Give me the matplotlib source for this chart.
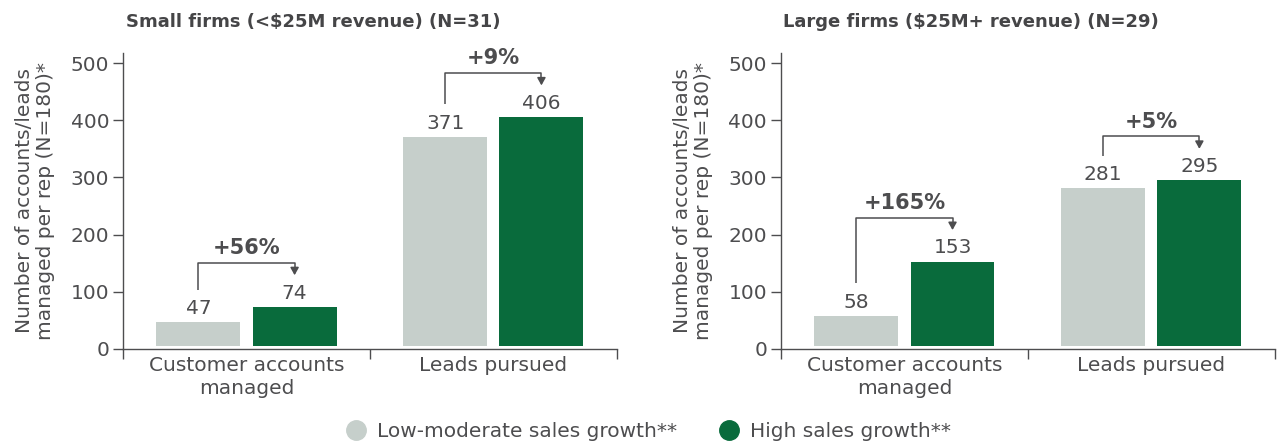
import numpy as np
import matplotlib
matplotlib.use("Agg")
from matplotlib import pyplot as plt
from matplotlib.lines import Line2D

plt.rcParams['font.family'] = ['DejaVu Sans']

# data
categories = ["Customer accounts\nmanaged", "Leads pursued"]
titles = ["Small firms (<$25M revenue) (N=31)", "Large firms ($25M+ revenue) (N=29)"]
low_small = [47, 371]
high_small = [74, 406]
low_large = [58, 281]
high_large = [153, 295]
pct_small = ["+56%", "+9%"]
pct_large = ["+165%", "+5%"]
series_names = ["Low-moderate sales growth**", "High sales growth**"]

light = "#c6cfcb"
green = "#096b3c"
txt = "#4d4d4f"

fig = plt.figure(figsize=(12.79, 4.46), dpi=100)
ax1 = fig.add_axes([0.0962, 0.2175, 0.386, 0.664])
ax2 = fig.add_axes([0.6106, 0.2175, 0.386, 0.664])

panels = [(ax1, titles[0], low_small, high_small, pct_small),
          (ax2, titles[1], low_large, high_large, pct_large)]

w = 0.34
off = 0.195
base = 6

for ax, title, low, high, pct in panels:
    x = np.arange(len(categories)) + 0.5
    xl = x - off
    xh = x + off
    ax.bar(xl, np.array(low) - base, w, bottom=base, color=light)
    ax.bar(xh, np.array(high) - base, w, bottom=base, color=green)
    for i in range(len(categories)):
        ax.annotate(str(low[i]), (xl[i], low[i]), xytext=(0, 3), textcoords="offset points",
                    ha="center", va="bottom", fontsize=14.5, color=txt)
        ax.annotate(str(high[i]), (xh[i], high[i]), xytext=(0, 3), textcoords="offset points",
                    ha="center", va="bottom", fontsize=14.5, color=txt)
        # bracket
        y0 = low[i] + 57
        top = max(low[i], high[i]) + 77
        ax.plot([xl[i], xl[i], xh[i], xh[i]], [y0, top, top, top - 12],
                color=txt, lw=1.1, solid_capstyle="butt")
        ax.annotate("", xy=(xh[i], top - 22), xytext=(xh[i], top - 11),
                    arrowprops=dict(arrowstyle="-|>,head_length=0.45,head_width=0.25",
                                    color=txt, lw=1.1, shrinkA=0, shrinkB=0))
        ax.text(x[i], top + 8, pct[i], ha="center", va="bottom", fontsize=15,
                fontweight="bold", color=txt)

    ax.set_xlim(0, 2)
    ax.set_ylim(0, 518)
    ax.set_yticks([0, 100, 200, 300, 400, 500])
    ax.set_xticks(x)
    ax.set_xticklabels(categories, fontsize=14.5, color=txt, linespacing=1.3)
    ax.set_xticks([0, 1, 2], minor=True)
    ax.tick_params(axis="x", which="major", length=0, pad=5)
    ax.tick_params(axis="x", which="minor", length=7, width=1, color=txt)
    ax.tick_params(axis="y", length=7, width=1, color=txt, labelsize=14.5,
                   labelcolor=txt, pad=3)
    for s in ["top", "right"]:
        ax.spines[s].set_visible(False)
    for s in ["left", "bottom"]:
        ax.spines[s].set_color(txt)
        ax.spines[s].set_linewidth(1)
    ax.set_ylabel("Number of accounts/leads\nmanaged per rep (N=180)*", fontsize=14.5,
                  color=txt, labelpad=11, linespacing=1.15)
    ax.text(0.005, 1.105, title, transform=ax.transAxes, ha="left", va="center",
            fontsize=13, fontweight="bold", color="#454547")

handles = [Line2D([], [], marker="o", ls="", markersize=14, color=light),
           Line2D([], [], marker="o", ls="", markersize=14, color=green)]
fig.legend(handles, series_names, loc="center", bbox_to_anchor=(0.503, 0.032), ncol=2,
           frameon=False, fontsize=14.5, labelcolor=txt, handletextpad=0.05,
           columnspacing=1.6, borderpad=0)

fig.savefig("out.png", dpi=100)
